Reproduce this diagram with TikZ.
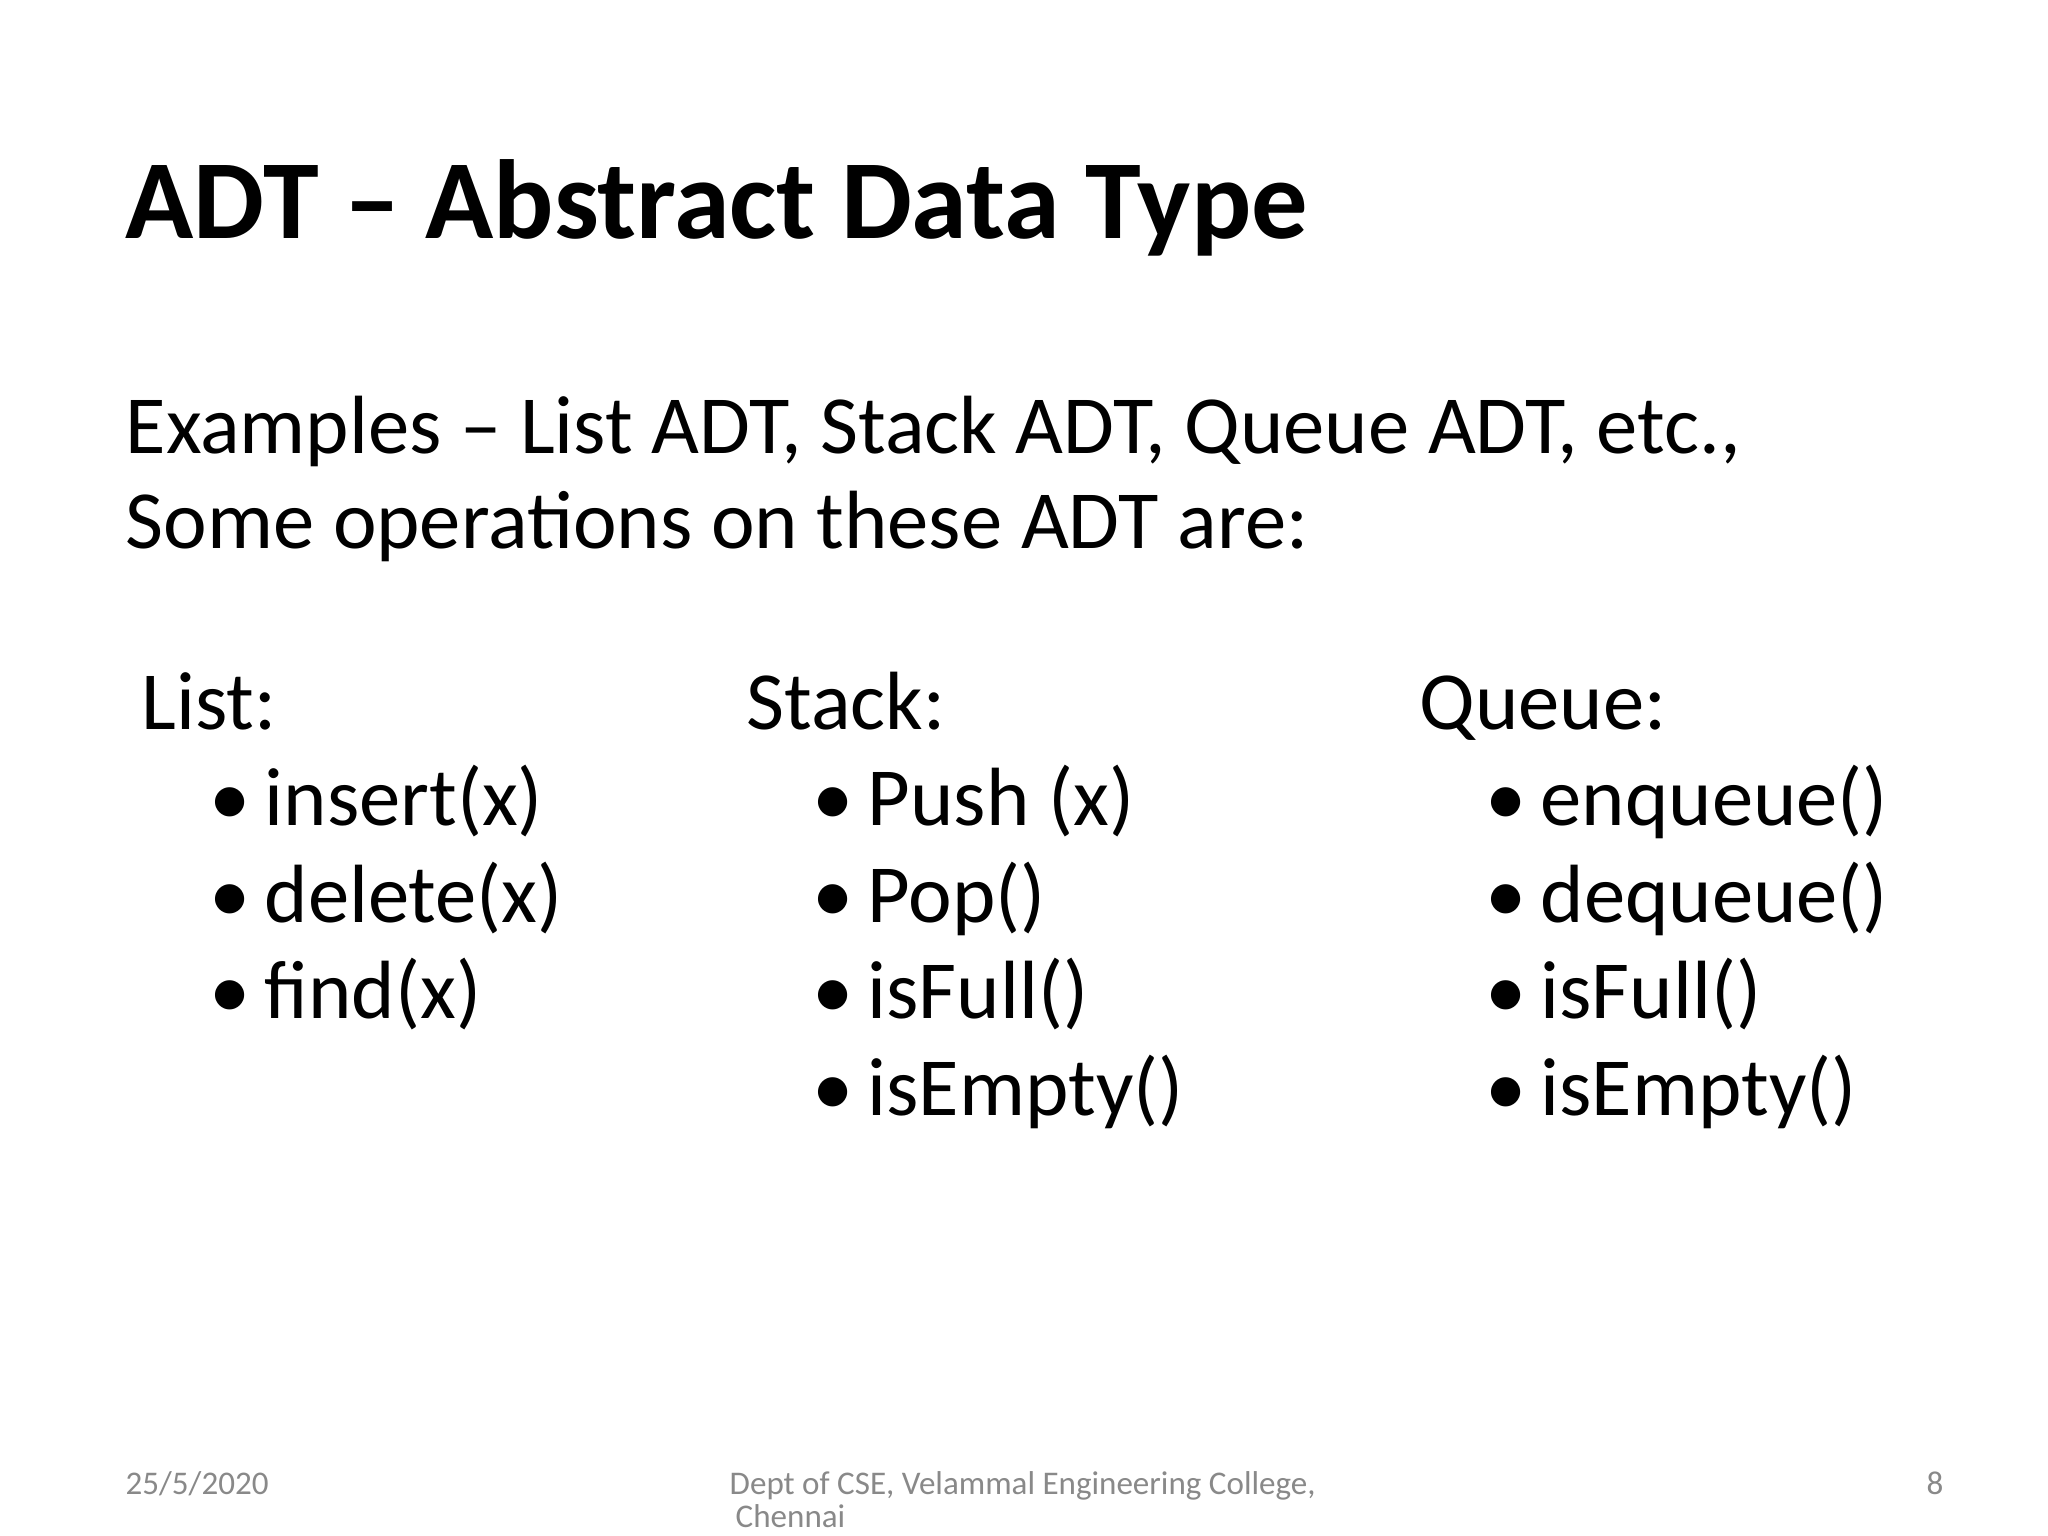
\documentclass[tikz,border=0pt]{standalone}
\usepackage{fontspec}
\setmainfont{Carlito}
\newfontfamily\bulfont{DejaVu Sans}
\definecolor{foot}{HTML}{898989}
\begin{document}
\begin{tikzpicture}[x=0.01cm,y=-0.01cm,
  txt/.style={anchor=base west,inner sep=0pt,font=\fontsize{23.5}{28}\selectfont},
  bul/.style={anchor=base west,inner sep=0pt,font=\fontsize{23.5}{28}\selectfont},
  ft/.style={anchor=base west,inner sep=0pt,text=foot,font=\fontsize{9.4}{11}\selectfont}]
\useasboundingbox[fill=white] (0,0) rectangle (2048,1536);
\node[anchor=base west,inner sep=0pt,font=\fontsize{32}{38}\selectfont\bfseries] (title) at (125,238) {ADT – Abstract Data Type};
\node[txt] (ex1) at (125,453) {Examples – List ADT, Stack ADT, Queue ADT, etc.,};
\node[txt] (ex2) at (125,548) {Some operations on these ADT are:};
% columns
\foreach \n/\h/\bx/\tx/\items in {l/141/209/264/{insert(x),delete(x),find(x)},
  s/746/812/867/{Push (x),Pop(),isFull(),isEmpty()},
  q/1419/1485/1540/{enqueue(),dequeue(),isFull(),isEmpty()}}{
  \foreach \it [count=\i] in \items {
    \node[bul] (\n b\i) at (\bx,729+96.5*\i) {•};
    \node[txt] (\n t\i) at (\tx,729+96.5*\i) {\it};
  }
}
\node[txt] (lh) at (141,729) {List:};
\node[txt] (sh) at (746,729) {Stack:};
\node[txt] (qh) at (1419,729) {Queue:};
% footer
\node[ft] (date) at (125,1494) {25/5/2020};
\node[ft] (dept) at (729,1494) {Dept of CSE, Velammal Engineering College,};
\node[ft] (chen) at (735,1527) {Chennai};
\node[ft,anchor=base east] (num) at (1944,1494) {8};
\end{tikzpicture}
\end{document}
